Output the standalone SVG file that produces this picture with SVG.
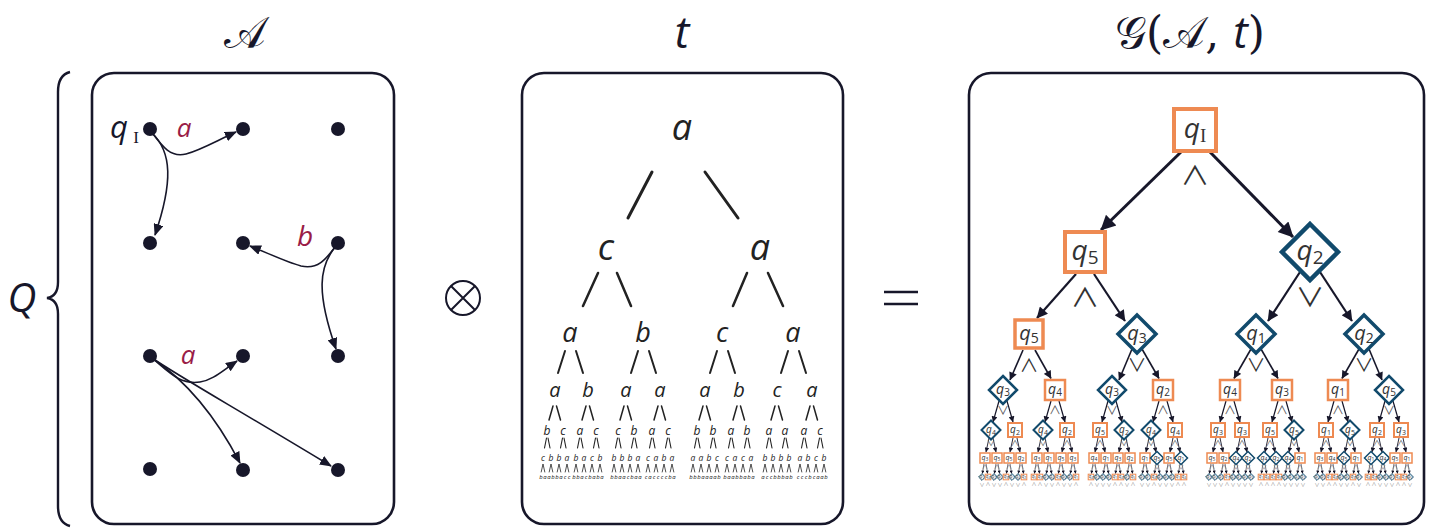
<svg xmlns="http://www.w3.org/2000/svg" width="1433" height="528" viewBox="0 0 1433 528">
<defs>
<style>
.frame{fill:#fff;stroke:#17172a;stroke-width:2.6}
.ttl{font-family:"DejaVu Serif","DejaVu Sans",serif;fill:#17172a;text-anchor:middle}
.it{font-family:"Open Sans","DejaVu Sans",sans-serif;font-style:italic;fill:#17172a}
.dot{fill:#17172a}
.ae{fill:none;stroke:#17172a;stroke-width:1.6;marker-end:url(#ha)}
.lab{font-family:"Open Sans",sans-serif;font-style:italic;fill:#9a1c47;text-anchor:middle}
.tr{font-family:"Open Sans",sans-serif;font-style:italic;fill:#222;text-anchor:middle}
.sl{fill:none;stroke:#222;stroke-linecap:round}
.sq{fill:#fff;stroke:#ee8a52}
.dm{fill:#fff;stroke:#114a6c}
.q{font-family:"Open Sans",sans-serif;font-style:italic;fill:#333;text-anchor:middle}
.q tspan{font-style:normal}
.q0{font-size:28px}.q0 tspan{font-size:19px;font-family:"Liberation Serif",serif}
.q1{font-size:28px}.q1 tspan{font-size:19px}
.q2{font-size:20px}.q2 tspan{font-size:14px}
.q3{font-size:14px}.q3 tspan{font-size:10px}
.q4{font-size:10px}.q4 tspan{font-size:7px}
.q5{font-size:7px}.q5 tspan{font-size:5px}
.q6{font-size:4.4px}.q6 tspan{font-size:3.2px}
.op{font-family:"Noto Sans CJK SC","DejaVu Sans",sans-serif;text-anchor:middle;fill:#333}
.o0,.o1{font-size:26px}
.o2{font-size:18px}
.o3{font-size:12px;fill:#555}
.o4{font-size:8px;fill:#666}
.o5{font-size:6px;fill:#777}
.o6{font-size:5px;fill:#888}
.ge{fill:none;stroke:#17172a;marker-end:url(#hg)}
</style>
<marker id="ha" viewBox="0 0 12 10" refX="11" refY="5" markerWidth="12" markerHeight="10" markerUnits="userSpaceOnUse" orient="auto"><path d="M0,0 L12,5 L0,10 Z" fill="#17172a"/></marker>
<marker id="hg" viewBox="0 0 10 10" refX="9.5" refY="5" markerWidth="6" markerHeight="5" orient="auto"><path d="M0,0 L10,5 L0,10 Z" fill="#17172a"/></marker>
<!-- node shapes, one size per tree level -->
<rect id="S0" x="-21" y="-21" width="42" height="42" class="sq" stroke-width="4"/>
<rect id="S1" x="-20" y="-20" width="40" height="40" class="sq" stroke-width="4"/>
<path id="D1" d="M0,-28L28,0L0,28L-28,0Z" class="dm" stroke-width="4.5"/>
<rect id="S2" x="-14" y="-14" width="28" height="28" class="sq" stroke-width="3.5"/>
<path id="D2" d="M0,-19L19,0L0,19L-19,0Z" class="dm" stroke-width="3.5"/>
<rect id="S3" x="-10" y="-10" width="20" height="20" class="sq" stroke-width="2.5"/>
<path id="D3" d="M0,-14L14,0L0,14L-14,0Z" class="dm" stroke-width="2.5"/>
<rect id="S4" x="-7" y="-7" width="14" height="14" class="sq" stroke-width="2"/>
<path id="D4" d="M0,-9.5L9.5,0L0,9.5L-9.5,0Z" class="dm" stroke-width="2"/>
<rect id="S5" x="-5" y="-5" width="10" height="10" class="sq" stroke-width="1.5"/>
<path id="D5" d="M0,-6.5L6.5,0L0,6.5L-6.5,0Z" class="dm" stroke-width="1.5"/>
<rect id="S6" x="-2.8" y="-2.8" width="5.6" height="5.6" class="sq" stroke-width="1"/>
<path id="D6" d="M0,-3.4L3.4,0L0,3.4L-3.4,0Z" class="dm" stroke-width="1"/>
<!-- arrow forks from a parent to its two children -->
<g id="F3" class="ge" stroke-width="1.2"><path d="M-4,11L-10,32"/><path d="M4,11L10,32"/></g>
<g id="F4" class="ge" stroke-width="0.9"><path d="M-2,8L-5,22"/><path d="M2,8L5,22"/></g>
<g id="F5" class="ge" stroke-width="0.6"><path d="M-1,5.5L-2.6,15.5"/><path d="M1,5.5L2.6,15.5"/></g>
<!-- branch strokes of the term tree -->
<path id="P3" class="sl" stroke-width="2" d="M-5,0L-12,22M6,0L13,22"/>
<path id="P4" class="sl" stroke-width="1.5" d="M-2,0L-6,14M1.5,0L5.5,14"/>
<path id="P5" class="sl" stroke-width="1.1" d="M-0.5,0L-2.5,10M1,0L3,10"/>
<path id="P6" class="sl" stroke-width="0.8" d="M-1.8,8L0,0L1.8,8"/>
</defs>

<rect width="1433" height="528" fill="#fff"/>

<!-- titles -->
<text class="ttl" x="245" y="48" font-size="44">𝒜</text>
<text class="it" x="682" y="48" font-size="44" text-anchor="middle">t</text>
<text class="ttl" x="1190" y="48" font-size="44">𝒢(𝒜, <tspan font-family="Open Sans" font-style="italic">t</tspan>)</text>

<!-- state set brace -->
<text class="it" x="22" y="312" font-size="40" text-anchor="middle">Q</text>
<path d="M70,72 C62,74 58,80 58,92 L58,282 C58,292 54,297 47,298 C54,299 58,304 58,314 L58,506 C58,518 62,524 70,526" fill="none" stroke="#17172a" stroke-width="2.4"/>

<!-- frames -->
<rect class="frame" x="92" y="73" width="302" height="451" rx="22"/>
<rect class="frame" x="522" y="73" width="321" height="451" rx="22"/>
<rect class="frame" x="969" y="73" width="455" height="451" rx="22"/>

<!-- operators between panels -->
<g id="otimes" fill="none" stroke="#17172a" stroke-width="2"><circle cx="463" cy="298" r="17"/><path d="M451,286L475,310M475,286L451,310"/></g>
<g id="equals" stroke="#17172a" stroke-width="2.5"><path d="M884,292H918M884,304H918"/></g>

<!-- automaton -->
<g id="a-edges">
<path class="ae" d="M150,130 C162,146 170,158 186,154 C201,150 216,141 236,132"/>
<path class="ae" d="M152,133 C172,152 173,182 155,235"/>
<path class="ae" d="M336,246 C326,259 318,270 301,266 C286,262 270,254 250,246"/>
<path class="ae" d="M336,246 C319,266 316,292 336,349"/>
<path class="ae" d="M152,358 C170,373 180,385 200,382 C213,380 222,371 237,361"/>
<path class="ae" d="M152,358 C185,380 215,415 240,463"/>
<path class="ae" d="M152,358 C180,377 225,402 331,466"/>
</g>
<g id="a-labels">
<text class="lab" x="184" y="137" font-size="26">a</text>
<text class="lab" x="305" y="246" font-size="28">b</text>
<text class="lab" x="188" y="364" font-size="26">a</text>
</g>
<g id="s-11"><circle class="dot" cx="150" cy="129" r="7"/><text class="it" x="119" y="138" font-size="31" text-anchor="middle">q</text><text x="136" y="143" font-size="17" font-family="Liberation Serif" fill="#17172a" text-anchor="middle">I</text></g>
<g id="s-12"><circle class="dot" cx="243" cy="129" r="7"/></g>
<g id="s-13"><circle class="dot" cx="338" cy="129" r="7"/></g>
<g id="s-21"><circle class="dot" cx="150" cy="243" r="7"/></g>
<g id="s-22"><circle class="dot" cx="243" cy="243" r="7"/></g>
<g id="s-23"><circle class="dot" cx="338" cy="243" r="7"/></g>
<g id="s-31"><circle class="dot" cx="150" cy="356" r="7"/></g>
<g id="s-32"><circle class="dot" cx="243" cy="356" r="7"/></g>
<g id="s-33"><circle class="dot" cx="338" cy="356" r="7"/></g>
<g id="s-41"><circle class="dot" cx="150" cy="469" r="7"/></g>
<g id="s-42"><circle class="dot" cx="243" cy="470" r="7"/></g>
<g id="s-43"><circle class="dot" cx="338" cy="470" r="7"/></g>

<!-- term tree t -->
<g id="t-branches">
<path class="sl" stroke-width="3" d="M652,172L628,218M705,172L738,218"/>
<path class="sl" stroke-width="2.5" d="M598,273L583,306M617,273L631,306M747,273L733,306M768,273L783,306"/>
<use href="#P3" x="570" y="351"/><use href="#P3" x="643" y="351"/><use href="#P3" x="722" y="351"/><use href="#P3" x="793" y="351"/>
<use href="#P4" x="555" y="406"/><use href="#P4" x="588" y="406"/><use href="#P4" x="626" y="406"/><use href="#P4" x="660" y="406"/><use href="#P4" x="705" y="406"/><use href="#P4" x="739" y="406"/><use href="#P4" x="777" y="406"/><use href="#P4" x="812" y="406"/>
<use href="#P5" x="547" y="438"/><use href="#P5" x="563" y="438"/><use href="#P5" x="580" y="438"/><use href="#P5" x="596" y="438"/><use href="#P5" x="618" y="438"/><use href="#P5" x="634" y="438"/><use href="#P5" x="652" y="438"/><use href="#P5" x="668" y="438"/><use href="#P5" x="697" y="438"/><use href="#P5" x="713" y="438"/><use href="#P5" x="731" y="438"/><use href="#P5" x="747" y="438"/><use href="#P5" x="769" y="438"/><use href="#P5" x="785" y="438"/><use href="#P5" x="804" y="438"/><use href="#P5" x="820" y="438"/>
<use href="#P6" x="543" y="464"/><use href="#P6" x="551" y="464"/><use href="#P6" x="559" y="464"/><use href="#P6" x="567" y="464"/><use href="#P6" x="576" y="464"/><use href="#P6" x="584" y="464"/><use href="#P6" x="592" y="464"/><use href="#P6" x="600" y="464"/><use href="#P6" x="614" y="464"/><use href="#P6" x="622" y="464"/><use href="#P6" x="630" y="464"/><use href="#P6" x="638" y="464"/><use href="#P6" x="648" y="464"/><use href="#P6" x="656" y="464"/><use href="#P6" x="664" y="464"/><use href="#P6" x="672" y="464"/><use href="#P6" x="693" y="464"/><use href="#P6" x="701" y="464"/><use href="#P6" x="709" y="464"/><use href="#P6" x="717" y="464"/><use href="#P6" x="727" y="464"/><use href="#P6" x="735" y="464"/><use href="#P6" x="743" y="464"/><use href="#P6" x="751" y="464"/><use href="#P6" x="765" y="464"/><use href="#P6" x="773" y="464"/><use href="#P6" x="781" y="464"/><use href="#P6" x="789" y="464"/><use href="#P6" x="800" y="464"/><use href="#P6" x="808" y="464"/><use href="#P6" x="816" y="464"/><use href="#P6" x="824" y="464"/>
</g>
<g id="t-d0"><text class="tr" x="682" y="140" font-size="36">a</text></g>
<g id="t-d1"><text class="tr" x="606 760" y="260" font-size="36">ca</text></g>
<g id="t-d2"><text class="tr" x="570 643 722 793" y="342" font-size="27">abca</text></g>
<g id="t-d3"><text class="tr" x="555 588 626 660 705 739 777 812" y="397" font-size="20">abaaabca</text></g>
<g id="t-d4"><text class="tr" x="547 563 580 596 618 634 652 668 697 713 731 747 769 785 804 820" y="435" font-size="12">bcaccbacbbabaaac</text></g>
<g id="t-d5"><text class="tr" x="543 551 559 567 576 584 592 600 614 622 630 638 648 656 664 672 693 701 709 717 727 735 743 751 765 773 781 789 800 808 816 824" y="461" font-size="8.5">cbbabacbbbbacabaaabccacabbbbabcb</text></g>
<g id="t-d6"><text class="tr" x="541 545 549 553 557 561 565 569 574 578 582 586 590 594 598 602 612 616 620 624 628 632 636 640 646 650 654 658 662 666 670 674 691 695 699 703 707 711 715 719 725 729 733 737 741 745 749 753 763 767 771 775 779 783 787 791 798 802 806 810 814 818 822 826" y="479" font-size="6">baabbaccbbacbababbaacbaacaccccbabbbaaaabbaabbabaaccbbbabcccbcaab</text></g>

<!-- game graph: connectors -->
<g id="g-edges">
<path class="ge" stroke-width="3" d="M1181,152L1101,230"/>
<path class="ge" stroke-width="3" d="M1210,152L1293,237"/>
<path class="ge" stroke-width="2.2" d="M1076,274L1037,318"/>
<path class="ge" stroke-width="2.2" d="M1094,274L1125,321"/>
<path class="ge" stroke-width="2.2" d="M1300,272L1268,321"/>
<path class="ge" stroke-width="2.2" d="M1320,272L1352,321"/>
<path class="ge" stroke-width="1.6" d="M1023,350L1010,380"/>
<path class="ge" stroke-width="1.6" d="M1035,350L1051,378.5"/>
<path class="ge" stroke-width="1.6" d="M1132,349L1119,380"/>
<path class="ge" stroke-width="1.6" d="M1142,349L1159,378.5"/>
<path class="ge" stroke-width="1.6" d="M1251,349L1234,378.5"/>
<path class="ge" stroke-width="1.6" d="M1261,349L1278,378.5"/>
<path class="ge" stroke-width="1.6" d="M1359,349L1342,378.5"/>
<path class="ge" stroke-width="1.6" d="M1369,349L1382,380"/>
<use href="#F3" x="1003" y="390"/><use href="#F3" x="1055" y="390"/><use href="#F3" x="1112" y="390"/><use href="#F3" x="1163" y="390"/><use href="#F3" x="1230" y="390"/><use href="#F3" x="1282" y="390"/><use href="#F3" x="1338" y="390"/><use href="#F3" x="1389" y="390"/>
<use href="#F4" x="991" y="430"/><use href="#F4" x="1015" y="430"/><use href="#F4" x="1043" y="430"/><use href="#F4" x="1067" y="430"/><use href="#F4" x="1100" y="430"/><use href="#F4" x="1124" y="430"/><use href="#F4" x="1151" y="430"/><use href="#F4" x="1175" y="430"/><use href="#F4" x="1218" y="430"/><use href="#F4" x="1242" y="430"/><use href="#F4" x="1270" y="430"/><use href="#F4" x="1294" y="430"/><use href="#F4" x="1326" y="430"/><use href="#F4" x="1350" y="430"/><use href="#F4" x="1377" y="430"/><use href="#F4" x="1401" y="430"/>
<use href="#F5" x="985" y="458"/><use href="#F5" x="997" y="458"/><use href="#F5" x="1009" y="458"/><use href="#F5" x="1021" y="458"/><use href="#F5" x="1037" y="458"/><use href="#F5" x="1049" y="458"/><use href="#F5" x="1061" y="458"/><use href="#F5" x="1073" y="458"/><use href="#F5" x="1094" y="458"/><use href="#F5" x="1106" y="458"/><use href="#F5" x="1118" y="458"/><use href="#F5" x="1130" y="458"/><use href="#F5" x="1145" y="458"/><use href="#F5" x="1157" y="458"/><use href="#F5" x="1169" y="458"/><use href="#F5" x="1181" y="458"/><use href="#F5" x="1212" y="458"/><use href="#F5" x="1224" y="458"/><use href="#F5" x="1236" y="458"/><use href="#F5" x="1248" y="458"/><use href="#F5" x="1264" y="458"/><use href="#F5" x="1276" y="458"/><use href="#F5" x="1288" y="458"/><use href="#F5" x="1300" y="458"/><use href="#F5" x="1320" y="458"/><use href="#F5" x="1332" y="458"/><use href="#F5" x="1344" y="458"/><use href="#F5" x="1356" y="458"/><use href="#F5" x="1371" y="458"/><use href="#F5" x="1383" y="458"/><use href="#F5" x="1395" y="458"/><use href="#F5" x="1407" y="458"/>
</g>

<!-- game graph: positions (square = Eve, diamond = Adam) -->
<g id="g0"><use href="#S0" x="1195" y="130"/><text class="q q0" x="1195" y="138">q<tspan dy="4">I</tspan></text><text class="op o0" x="1195" y="184.5" textLength="29" lengthAdjust="spacingAndGlyphs">∧</text></g>
<g id="g1-1"><use href="#S1" x="1085" y="252"/><text class="q q1" x="1085" y="260">q<tspan dy="4">5</tspan></text><text class="op o1" x="1085" y="306.5" textLength="29" lengthAdjust="spacingAndGlyphs">∧</text></g>
<g id="g1-2"><use href="#D1" x="1310" y="252"/><text class="q q1" x="1310" y="260">q<tspan dy="4">2</tspan></text><text class="op o1" x="1310" y="306.5" textLength="29" lengthAdjust="spacingAndGlyphs">∨</text></g>

<g id="g2-1"><use href="#S2" x="1029" y="334"/><text class="q q2" x="1029" y="339.5">q<tspan dy="3">5</tspan></text><text class="op o2" x="1029" y="372" textLength="19" lengthAdjust="spacingAndGlyphs">∧</text></g>
<g id="g2-2"><use href="#D2" x="1137" y="334"/><text class="q q2" x="1137" y="339.5">q<tspan dy="3">3</tspan></text><text class="op o2" x="1137" y="372" textLength="19" lengthAdjust="spacingAndGlyphs">∨</text></g>
<g id="g2-3"><use href="#D2" x="1256" y="334"/><text class="q q2" x="1256" y="339.5">q<tspan dy="3">1</tspan></text><text class="op o2" x="1256" y="372" textLength="19" lengthAdjust="spacingAndGlyphs">∨</text></g>
<g id="g2-4"><use href="#D2" x="1364" y="334"/><text class="q q2" x="1364" y="339.5">q<tspan dy="3">2</tspan></text><text class="op o2" x="1364" y="372" textLength="19" lengthAdjust="spacingAndGlyphs">∨</text></g>

<g id="g3-1"><use href="#D3" x="1003" y="390"/><text class="q q3" x="1003" y="394">q<tspan dy="2">3</tspan></text><text class="op o3" x="1003" y="414.5" textLength="12" lengthAdjust="spacingAndGlyphs">∨</text></g>
<g id="g3-2"><use href="#S3" x="1055" y="390"/><text class="q q3" x="1055" y="394">q<tspan dy="2">4</tspan></text><text class="op o3" x="1055" y="414.5" textLength="12" lengthAdjust="spacingAndGlyphs">∧</text></g>
<g id="g3-3"><use href="#D3" x="1112" y="390"/><text class="q q3" x="1112" y="394">q<tspan dy="2">3</tspan></text><text class="op o3" x="1112" y="414.5" textLength="12" lengthAdjust="spacingAndGlyphs">∨</text></g>
<g id="g3-4"><use href="#S3" x="1163" y="390"/><text class="q q3" x="1163" y="394">q<tspan dy="2">2</tspan></text><text class="op o3" x="1163" y="414.5" textLength="12" lengthAdjust="spacingAndGlyphs">∧</text></g>
<g id="g3-5"><use href="#S3" x="1230" y="390"/><text class="q q3" x="1230" y="394">q<tspan dy="2">4</tspan></text><text class="op o3" x="1230" y="414.5" textLength="12" lengthAdjust="spacingAndGlyphs">∧</text></g>
<g id="g3-6"><use href="#S3" x="1282" y="390"/><text class="q q3" x="1282" y="394">q<tspan dy="2">3</tspan></text><text class="op o3" x="1282" y="414.5" textLength="12" lengthAdjust="spacingAndGlyphs">∧</text></g>
<g id="g3-7"><use href="#S3" x="1338" y="390"/><text class="q q3" x="1338" y="394">q<tspan dy="2">1</tspan></text><text class="op o3" x="1338" y="414.5" textLength="12" lengthAdjust="spacingAndGlyphs">∧</text></g>
<g id="g3-8"><use href="#D3" x="1389" y="390"/><text class="q q3" x="1389" y="394">q<tspan dy="2">5</tspan></text><text class="op o3" x="1389" y="414.5" textLength="12" lengthAdjust="spacingAndGlyphs">∨</text></g>

<g id="g4-1"><use href="#D4" x="991" y="430"/><text class="q q4" x="991" y="433">q<tspan dy="1.5">4</tspan></text><text class="op o4" x="991" y="446" textLength="8.5" lengthAdjust="spacingAndGlyphs">∨</text></g>
<g id="g4-2"><use href="#S4" x="1015" y="430"/><text class="q q4" x="1015" y="433">q<tspan dy="1.5">2</tspan></text><text class="op o4" x="1015" y="446" textLength="8.5" lengthAdjust="spacingAndGlyphs">∧</text></g>
<g id="g4-3"><use href="#D4" x="1043" y="430"/><text class="q q4" x="1043" y="433">q<tspan dy="1.5">4</tspan></text><text class="op o4" x="1043" y="446" textLength="8.5" lengthAdjust="spacingAndGlyphs">∨</text></g>
<g id="g4-4"><use href="#S4" x="1067" y="430"/><text class="q q4" x="1067" y="433">q<tspan dy="1.5">2</tspan></text><text class="op o4" x="1067" y="446" textLength="8.5" lengthAdjust="spacingAndGlyphs">∧</text></g>
<g id="g4-5"><use href="#S4" x="1100" y="430"/><text class="q q4" x="1100" y="433">q<tspan dy="1.5">5</tspan></text><text class="op o4" x="1100" y="446" textLength="8.5" lengthAdjust="spacingAndGlyphs">∧</text></g>
<g id="g4-6"><use href="#D4" x="1124" y="430"/><text class="q q4" x="1124" y="433">q<tspan dy="1.5">2</tspan></text><text class="op o4" x="1124" y="446" textLength="8.5" lengthAdjust="spacingAndGlyphs">∨</text></g>
<g id="g4-7"><use href="#D4" x="1151" y="430"/><text class="q q4" x="1151" y="433">q<tspan dy="1.5">4</tspan></text><text class="op o4" x="1151" y="446" textLength="8.5" lengthAdjust="spacingAndGlyphs">∨</text></g>
<g id="g4-8"><use href="#S4" x="1175" y="430"/><text class="q q4" x="1175" y="433">q<tspan dy="1.5">4</tspan></text><text class="op o4" x="1175" y="446" textLength="8.5" lengthAdjust="spacingAndGlyphs">∧</text></g>
<g id="g4-9"><use href="#S4" x="1218" y="430"/><text class="q q4" x="1218" y="433">q<tspan dy="1.5">3</tspan></text><text class="op o4" x="1218" y="446" textLength="8.5" lengthAdjust="spacingAndGlyphs">∧</text></g>
<g id="g4-10"><use href="#S4" x="1242" y="430"/><text class="q q4" x="1242" y="433">q<tspan dy="1.5">3</tspan></text><text class="op o4" x="1242" y="446" textLength="8.5" lengthAdjust="spacingAndGlyphs">∧</text></g>
<g id="g4-11"><use href="#S4" x="1270" y="430"/><text class="q q4" x="1270" y="433">q<tspan dy="1.5">5</tspan></text><text class="op o4" x="1270" y="446" textLength="8.5" lengthAdjust="spacingAndGlyphs">∧</text></g>
<g id="g4-12"><use href="#D4" x="1294" y="430"/><text class="q q4" x="1294" y="433">q<tspan dy="1.5">5</tspan></text><text class="op o4" x="1294" y="446" textLength="8.5" lengthAdjust="spacingAndGlyphs">∨</text></g>
<g id="g4-13"><use href="#S4" x="1326" y="430"/><text class="q q4" x="1326" y="433">q<tspan dy="1.5">1</tspan></text><text class="op o4" x="1326" y="446" textLength="8.5" lengthAdjust="spacingAndGlyphs">∧</text></g>
<g id="g4-14"><use href="#D4" x="1350" y="430"/><text class="q q4" x="1350" y="433">q<tspan dy="1.5">5</tspan></text><text class="op o4" x="1350" y="446" textLength="8.5" lengthAdjust="spacingAndGlyphs">∨</text></g>
<g id="g4-15"><use href="#S4" x="1377" y="430"/><text class="q q4" x="1377" y="433">q<tspan dy="1.5">2</tspan></text><text class="op o4" x="1377" y="446" textLength="8.5" lengthAdjust="spacingAndGlyphs">∧</text></g>
<g id="g4-16"><use href="#S4" x="1401" y="430"/><text class="q q4" x="1401" y="433">q<tspan dy="1.5">3</tspan></text><text class="op o4" x="1401" y="446" textLength="8.5" lengthAdjust="spacingAndGlyphs">∧</text></g>

<g id="g5-1"><use href="#S5" x="985" y="458"/><text class="q q5" x="985" y="460.3">q<tspan dy="1">3</tspan></text><text class="op o5" x="985" y="469" textLength="6" lengthAdjust="spacingAndGlyphs">∧</text></g>
<g id="g5-2"><use href="#S5" x="997" y="458"/><text class="q q5" x="997" y="460.3">q<tspan dy="1">5</tspan></text><text class="op o5" x="997" y="469" textLength="6" lengthAdjust="spacingAndGlyphs">∧</text></g>
<g id="g5-3"><use href="#S5" x="1009" y="458"/><text class="q q5" x="1009" y="460.3">q<tspan dy="1">5</tspan></text><text class="op o5" x="1009" y="469" textLength="6" lengthAdjust="spacingAndGlyphs">∧</text></g>
<g id="g5-4"><use href="#S5" x="1021" y="458"/><text class="q q5" x="1021" y="460.3">q<tspan dy="1">2</tspan></text><text class="op o5" x="1021" y="469" textLength="6" lengthAdjust="spacingAndGlyphs">∧</text></g>
<g id="g5-5"><use href="#S5" x="1037" y="458"/><text class="q q5" x="1037" y="460.3">q<tspan dy="1">3</tspan></text><text class="op o5" x="1037" y="469" textLength="6" lengthAdjust="spacingAndGlyphs">∧</text></g>
<g id="g5-6"><use href="#S5" x="1049" y="458"/><text class="q q5" x="1049" y="460.3">q<tspan dy="1">1</tspan></text><text class="op o5" x="1049" y="469" textLength="6" lengthAdjust="spacingAndGlyphs">∧</text></g>
<g id="g5-7"><use href="#S5" x="1061" y="458"/><text class="q q5" x="1061" y="460.3">q<tspan dy="1">5</tspan></text><text class="op o5" x="1061" y="469" textLength="6" lengthAdjust="spacingAndGlyphs">∧</text></g>
<g id="g5-8"><use href="#S5" x="1073" y="458"/><text class="q q5" x="1073" y="460.3">q<tspan dy="1">3</tspan></text><text class="op o5" x="1073" y="469" textLength="6" lengthAdjust="spacingAndGlyphs">∧</text></g>
<g id="g5-9"><use href="#S5" x="1094" y="458"/><text class="q q5" x="1094" y="460.3">q<tspan dy="1">4</tspan></text><text class="op o5" x="1094" y="469" textLength="6" lengthAdjust="spacingAndGlyphs">∧</text></g>
<g id="g5-10"><use href="#S5" x="1106" y="458"/><text class="q q5" x="1106" y="460.3">q<tspan dy="1">1</tspan></text><text class="op o5" x="1106" y="469" textLength="6" lengthAdjust="spacingAndGlyphs">∧</text></g>
<g id="g5-11"><use href="#S5" x="1118" y="458"/><text class="q q5" x="1118" y="460.3">q<tspan dy="1">3</tspan></text><text class="op o5" x="1118" y="469" textLength="6" lengthAdjust="spacingAndGlyphs">∧</text></g>
<g id="g5-12"><use href="#S5" x="1130" y="458"/><text class="q q5" x="1130" y="460.3">q<tspan dy="1">2</tspan></text><text class="op o5" x="1130" y="469" textLength="6" lengthAdjust="spacingAndGlyphs">∧</text></g>
<g id="g5-13"><use href="#S5" x="1145" y="458"/><text class="q q5" x="1145" y="460.3">q<tspan dy="1">1</tspan></text><text class="op o5" x="1145" y="469" textLength="6" lengthAdjust="spacingAndGlyphs">∧</text></g>
<g id="g5-14"><use href="#D5" x="1157" y="458"/><text class="q q5" x="1157" y="460.3">q<tspan dy="1">5</tspan></text><text class="op o5" x="1157" y="469" textLength="6" lengthAdjust="spacingAndGlyphs">∨</text></g>
<g id="g5-15"><use href="#S5" x="1169" y="458"/><text class="q q5" x="1169" y="460.3">q<tspan dy="1">5</tspan></text><text class="op o5" x="1169" y="469" textLength="6" lengthAdjust="spacingAndGlyphs">∧</text></g>
<g id="g5-16"><use href="#D5" x="1181" y="458"/><text class="q q5" x="1181" y="460.3">q<tspan dy="1">1</tspan></text><text class="op o5" x="1181" y="469" textLength="6" lengthAdjust="spacingAndGlyphs">∨</text></g>
<g id="g5-17"><use href="#S5" x="1212" y="458"/><text class="q q5" x="1212" y="460.3">q<tspan dy="1">5</tspan></text><text class="op o5" x="1212" y="469" textLength="6" lengthAdjust="spacingAndGlyphs">∧</text></g>
<g id="g5-18"><use href="#S5" x="1224" y="458"/><text class="q q5" x="1224" y="460.3">q<tspan dy="1">2</tspan></text><text class="op o5" x="1224" y="469" textLength="6" lengthAdjust="spacingAndGlyphs">∧</text></g>
<g id="g5-19"><use href="#D5" x="1236" y="458"/><text class="q q5" x="1236" y="460.3">q<tspan dy="1">4</tspan></text><text class="op o5" x="1236" y="469" textLength="6" lengthAdjust="spacingAndGlyphs">∨</text></g>
<g id="g5-20"><use href="#D5" x="1248" y="458"/><text class="q q5" x="1248" y="460.3">q<tspan dy="1">2</tspan></text><text class="op o5" x="1248" y="469" textLength="6" lengthAdjust="spacingAndGlyphs">∨</text></g>
<g id="g5-21"><use href="#D5" x="1264" y="458"/><text class="q q5" x="1264" y="460.3">q<tspan dy="1">4</tspan></text><text class="op o5" x="1264" y="469" textLength="6" lengthAdjust="spacingAndGlyphs">∨</text></g>
<g id="g5-22"><use href="#D5" x="1276" y="458"/><text class="q q5" x="1276" y="460.3">q<tspan dy="1">2</tspan></text><text class="op o5" x="1276" y="469" textLength="6" lengthAdjust="spacingAndGlyphs">∨</text></g>
<g id="g5-23"><use href="#D5" x="1288" y="458"/><text class="q q5" x="1288" y="460.3">q<tspan dy="1">4</tspan></text><text class="op o5" x="1288" y="469" textLength="6" lengthAdjust="spacingAndGlyphs">∨</text></g>
<g id="g5-24"><use href="#S5" x="1300" y="458"/><text class="q q5" x="1300" y="460.3">q<tspan dy="1">1</tspan></text><text class="op o5" x="1300" y="469" textLength="6" lengthAdjust="spacingAndGlyphs">∧</text></g>
<g id="g5-25"><use href="#S5" x="1320" y="458"/><text class="q q5" x="1320" y="460.3">q<tspan dy="1">3</tspan></text><text class="op o5" x="1320" y="469" textLength="6" lengthAdjust="spacingAndGlyphs">∧</text></g>
<g id="g5-26"><use href="#S5" x="1332" y="458"/><text class="q q5" x="1332" y="460.3">q<tspan dy="1">4</tspan></text><text class="op o5" x="1332" y="469" textLength="6" lengthAdjust="spacingAndGlyphs">∧</text></g>
<g id="g5-27"><use href="#D5" x="1344" y="458"/><text class="q q5" x="1344" y="460.3">q<tspan dy="1">5</tspan></text><text class="op o5" x="1344" y="469" textLength="6" lengthAdjust="spacingAndGlyphs">∨</text></g>
<g id="g5-28"><use href="#S5" x="1356" y="458"/><text class="q q5" x="1356" y="460.3">q<tspan dy="1">1</tspan></text><text class="op o5" x="1356" y="469" textLength="6" lengthAdjust="spacingAndGlyphs">∧</text></g>
<g id="g5-29"><use href="#D5" x="1371" y="458"/><text class="q q5" x="1371" y="460.3">q<tspan dy="1">1</tspan></text><text class="op o5" x="1371" y="469" textLength="6" lengthAdjust="spacingAndGlyphs">∨</text></g>
<g id="g5-30"><use href="#D5" x="1383" y="458"/><text class="q q5" x="1383" y="460.3">q<tspan dy="1">4</tspan></text><text class="op o5" x="1383" y="469" textLength="6" lengthAdjust="spacingAndGlyphs">∨</text></g>
<g id="g5-31"><use href="#S5" x="1395" y="458"/><text class="q q5" x="1395" y="460.3">q<tspan dy="1">5</tspan></text><text class="op o5" x="1395" y="469" textLength="6" lengthAdjust="spacingAndGlyphs">∧</text></g>
<g id="g5-32"><use href="#S5" x="1407" y="458"/><text class="q q5" x="1407" y="460.3">q<tspan dy="1">1</tspan></text><text class="op o5" x="1407" y="469" textLength="6" lengthAdjust="spacingAndGlyphs">∧</text></g>

<g id="g6-1"><use href="#D6" x="982" y="477"/><text class="q q6" x="982" y="478.4">q<tspan dy=".6">1</tspan></text><text class="op o6" x="982" y="486" textLength="5" lengthAdjust="spacingAndGlyphs">∨</text></g>
<g id="g6-2"><use href="#S6" x="988" y="477"/><text class="q q6" x="988" y="478.4">q<tspan dy=".6">4</tspan></text><text class="op o6" x="988" y="486" textLength="5" lengthAdjust="spacingAndGlyphs">∧</text></g>
<g id="g6-3"><use href="#D6" x="994" y="477"/><text class="q q6" x="994" y="478.4">q<tspan dy=".6">2</tspan></text><text class="op o6" x="994" y="486" textLength="5" lengthAdjust="spacingAndGlyphs">∨</text></g>
<g id="g6-4"><use href="#D6" x="1000" y="477"/><text class="q q6" x="1000" y="478.4">q<tspan dy=".6">5</tspan></text><text class="op o6" x="1000" y="486" textLength="5" lengthAdjust="spacingAndGlyphs">∨</text></g>
<g id="g6-5"><use href="#S6" x="1006" y="477"/><text class="q q6" x="1006" y="478.4">q<tspan dy=".6">3</tspan></text><text class="op o6" x="1006" y="486" textLength="5" lengthAdjust="spacingAndGlyphs">∧</text></g>
<g id="g6-6"><use href="#D6" x="1012" y="477"/><text class="q q6" x="1012" y="478.4">q<tspan dy=".6">1</tspan></text><text class="op o6" x="1012" y="486" textLength="5" lengthAdjust="spacingAndGlyphs">∨</text></g>
<g id="g6-7"><use href="#D6" x="1018" y="477"/><text class="q q6" x="1018" y="478.4">q<tspan dy=".6">4</tspan></text><text class="op o6" x="1018" y="486" textLength="5" lengthAdjust="spacingAndGlyphs">∨</text></g>
<g id="g6-8"><use href="#S6" x="1024" y="477"/><text class="q q6" x="1024" y="478.4">q<tspan dy=".6">2</tspan></text><text class="op o6" x="1024" y="486" textLength="5" lengthAdjust="spacingAndGlyphs">∧</text></g>
<g id="g6-9"><use href="#S6" x="1034" y="477"/><text class="q q6" x="1034" y="478.4">q<tspan dy=".6">5</tspan></text><text class="op o6" x="1034" y="486" textLength="5" lengthAdjust="spacingAndGlyphs">∧</text></g>
<g id="g6-10"><use href="#S6" x="1040" y="477"/><text class="q q6" x="1040" y="478.4">q<tspan dy=".6">3</tspan></text><text class="op o6" x="1040" y="486" textLength="5" lengthAdjust="spacingAndGlyphs">∧</text></g>
<g id="g6-11"><use href="#D6" x="1046" y="477"/><text class="q q6" x="1046" y="478.4">q<tspan dy=".6">1</tspan></text><text class="op o6" x="1046" y="486" textLength="5" lengthAdjust="spacingAndGlyphs">∨</text></g>
<g id="g6-12"><use href="#D6" x="1052" y="477"/><text class="q q6" x="1052" y="478.4">q<tspan dy=".6">4</tspan></text><text class="op o6" x="1052" y="486" textLength="5" lengthAdjust="spacingAndGlyphs">∨</text></g>
<g id="g6-13"><use href="#S6" x="1058" y="477"/><text class="q q6" x="1058" y="478.4">q<tspan dy=".6">2</tspan></text><text class="op o6" x="1058" y="486" textLength="5" lengthAdjust="spacingAndGlyphs">∧</text></g>
<g id="g6-14"><use href="#D6" x="1064" y="477"/><text class="q q6" x="1064" y="478.4">q<tspan dy=".6">5</tspan></text><text class="op o6" x="1064" y="486" textLength="5" lengthAdjust="spacingAndGlyphs">∨</text></g>
<g id="g6-15"><use href="#D6" x="1070" y="477"/><text class="q q6" x="1070" y="478.4">q<tspan dy=".6">3</tspan></text><text class="op o6" x="1070" y="486" textLength="5" lengthAdjust="spacingAndGlyphs">∨</text></g>
<g id="g6-16"><use href="#S6" x="1076" y="477"/><text class="q q6" x="1076" y="478.4">q<tspan dy=".6">1</tspan></text><text class="op o6" x="1076" y="486" textLength="5" lengthAdjust="spacingAndGlyphs">∧</text></g>
<g id="g6-17"><use href="#S6" x="1091" y="477"/><text class="q q6" x="1091" y="478.4">q<tspan dy=".6">4</tspan></text><text class="op o6" x="1091" y="486" textLength="5" lengthAdjust="spacingAndGlyphs">∧</text></g>
<g id="g6-18"><use href="#D6" x="1097" y="477"/><text class="q q6" x="1097" y="478.4">q<tspan dy=".6">2</tspan></text><text class="op o6" x="1097" y="486" textLength="5" lengthAdjust="spacingAndGlyphs">∨</text></g>
<g id="g6-19"><use href="#D6" x="1103" y="477"/><text class="q q6" x="1103" y="478.4">q<tspan dy=".6">5</tspan></text><text class="op o6" x="1103" y="486" textLength="5" lengthAdjust="spacingAndGlyphs">∨</text></g>
<g id="g6-20"><use href="#D6" x="1109" y="477"/><text class="q q6" x="1109" y="478.4">q<tspan dy=".6">3</tspan></text><text class="op o6" x="1109" y="486" textLength="5" lengthAdjust="spacingAndGlyphs">∨</text></g>
<g id="g6-21"><use href="#S6" x="1115" y="477"/><text class="q q6" x="1115" y="478.4">q<tspan dy=".6">1</tspan></text><text class="op o6" x="1115" y="486" textLength="5" lengthAdjust="spacingAndGlyphs">∧</text></g>
<g id="g6-22"><use href="#S6" x="1121" y="477"/><text class="q q6" x="1121" y="478.4">q<tspan dy=".6">4</tspan></text><text class="op o6" x="1121" y="486" textLength="5" lengthAdjust="spacingAndGlyphs">∧</text></g>
<g id="g6-23"><use href="#D6" x="1127" y="477"/><text class="q q6" x="1127" y="478.4">q<tspan dy=".6">2</tspan></text><text class="op o6" x="1127" y="486" textLength="5" lengthAdjust="spacingAndGlyphs">∨</text></g>
<g id="g6-24"><use href="#S6" x="1133" y="477"/><text class="q q6" x="1133" y="478.4">q<tspan dy=".6">5</tspan></text><text class="op o6" x="1133" y="486" textLength="5" lengthAdjust="spacingAndGlyphs">∧</text></g>
<g id="g6-25"><use href="#D6" x="1142" y="477"/><text class="q q6" x="1142" y="478.4">q<tspan dy=".6">3</tspan></text><text class="op o6" x="1142" y="486" textLength="5" lengthAdjust="spacingAndGlyphs">∨</text></g>
<g id="g6-26"><use href="#D6" x="1148" y="477"/><text class="q q6" x="1148" y="478.4">q<tspan dy=".6">1</tspan></text><text class="op o6" x="1148" y="486" textLength="5" lengthAdjust="spacingAndGlyphs">∨</text></g>
<g id="g6-27"><use href="#S6" x="1154" y="477"/><text class="q q6" x="1154" y="478.4">q<tspan dy=".6">4</tspan></text><text class="op o6" x="1154" y="486" textLength="5" lengthAdjust="spacingAndGlyphs">∧</text></g>
<g id="g6-28"><use href="#D6" x="1160" y="477"/><text class="q q6" x="1160" y="478.4">q<tspan dy=".6">2</tspan></text><text class="op o6" x="1160" y="486" textLength="5" lengthAdjust="spacingAndGlyphs">∨</text></g>
<g id="g6-29"><use href="#D6" x="1166" y="477"/><text class="q q6" x="1166" y="478.4">q<tspan dy=".6">5</tspan></text><text class="op o6" x="1166" y="486" textLength="5" lengthAdjust="spacingAndGlyphs">∨</text></g>
<g id="g6-30"><use href="#D6" x="1172" y="477"/><text class="q q6" x="1172" y="478.4">q<tspan dy=".6">3</tspan></text><text class="op o6" x="1172" y="486" textLength="5" lengthAdjust="spacingAndGlyphs">∨</text></g>
<g id="g6-31"><use href="#S6" x="1178" y="477"/><text class="q q6" x="1178" y="478.4">q<tspan dy=".6">1</tspan></text><text class="op o6" x="1178" y="486" textLength="5" lengthAdjust="spacingAndGlyphs">∧</text></g>
<g id="g6-32"><use href="#S6" x="1184" y="477"/><text class="q q6" x="1184" y="478.4">q<tspan dy=".6">4</tspan></text><text class="op o6" x="1184" y="486" textLength="5" lengthAdjust="spacingAndGlyphs">∧</text></g>
<g id="g6-33"><use href="#D6" x="1209" y="477"/><text class="q q6" x="1209" y="478.4">q<tspan dy=".6">2</tspan></text><text class="op o6" x="1209" y="486" textLength="5" lengthAdjust="spacingAndGlyphs">∨</text></g>
<g id="g6-34"><use href="#D6" x="1215" y="477"/><text class="q q6" x="1215" y="478.4">q<tspan dy=".6">5</tspan></text><text class="op o6" x="1215" y="486" textLength="5" lengthAdjust="spacingAndGlyphs">∨</text></g>
<g id="g6-35"><use href="#D6" x="1221" y="477"/><text class="q q6" x="1221" y="478.4">q<tspan dy=".6">3</tspan></text><text class="op o6" x="1221" y="486" textLength="5" lengthAdjust="spacingAndGlyphs">∨</text></g>
<g id="g6-36"><use href="#S6" x="1227" y="477"/><text class="q q6" x="1227" y="478.4">q<tspan dy=".6">1</tspan></text><text class="op o6" x="1227" y="486" textLength="5" lengthAdjust="spacingAndGlyphs">∧</text></g>
<g id="g6-37"><use href="#D6" x="1233" y="477"/><text class="q q6" x="1233" y="478.4">q<tspan dy=".6">4</tspan></text><text class="op o6" x="1233" y="486" textLength="5" lengthAdjust="spacingAndGlyphs">∨</text></g>
<g id="g6-38"><use href="#D6" x="1239" y="477"/><text class="q q6" x="1239" y="478.4">q<tspan dy=".6">2</tspan></text><text class="op o6" x="1239" y="486" textLength="5" lengthAdjust="spacingAndGlyphs">∨</text></g>
<g id="g6-39"><use href="#D6" x="1245" y="477"/><text class="q q6" x="1245" y="478.4">q<tspan dy=".6">5</tspan></text><text class="op o6" x="1245" y="486" textLength="5" lengthAdjust="spacingAndGlyphs">∨</text></g>
<g id="g6-40"><use href="#D6" x="1251" y="477"/><text class="q q6" x="1251" y="478.4">q<tspan dy=".6">3</tspan></text><text class="op o6" x="1251" y="486" textLength="5" lengthAdjust="spacingAndGlyphs">∨</text></g>
<g id="g6-41"><use href="#S6" x="1261" y="477"/><text class="q q6" x="1261" y="478.4">q<tspan dy=".6">1</tspan></text><text class="op o6" x="1261" y="486" textLength="5" lengthAdjust="spacingAndGlyphs">∧</text></g>
<g id="g6-42"><use href="#S6" x="1267" y="477"/><text class="q q6" x="1267" y="478.4">q<tspan dy=".6">4</tspan></text><text class="op o6" x="1267" y="486" textLength="5" lengthAdjust="spacingAndGlyphs">∧</text></g>
<g id="g6-43"><use href="#S6" x="1273" y="477"/><text class="q q6" x="1273" y="478.4">q<tspan dy=".6">2</tspan></text><text class="op o6" x="1273" y="486" textLength="5" lengthAdjust="spacingAndGlyphs">∧</text></g>
<g id="g6-44"><use href="#S6" x="1279" y="477"/><text class="q q6" x="1279" y="478.4">q<tspan dy=".6">5</tspan></text><text class="op o6" x="1279" y="486" textLength="5" lengthAdjust="spacingAndGlyphs">∧</text></g>
<g id="g6-45"><use href="#D6" x="1285" y="477"/><text class="q q6" x="1285" y="478.4">q<tspan dy=".6">3</tspan></text><text class="op o6" x="1285" y="486" textLength="5" lengthAdjust="spacingAndGlyphs">∨</text></g>
<g id="g6-46"><use href="#D6" x="1291" y="477"/><text class="q q6" x="1291" y="478.4">q<tspan dy=".6">1</tspan></text><text class="op o6" x="1291" y="486" textLength="5" lengthAdjust="spacingAndGlyphs">∨</text></g>
<g id="g6-47"><use href="#D6" x="1297" y="477"/><text class="q q6" x="1297" y="478.4">q<tspan dy=".6">4</tspan></text><text class="op o6" x="1297" y="486" textLength="5" lengthAdjust="spacingAndGlyphs">∨</text></g>
<g id="g6-48"><use href="#D6" x="1303" y="477"/><text class="q q6" x="1303" y="478.4">q<tspan dy=".6">2</tspan></text><text class="op o6" x="1303" y="486" textLength="5" lengthAdjust="spacingAndGlyphs">∨</text></g>
<g id="g6-49"><use href="#D6" x="1317" y="477"/><text class="q q6" x="1317" y="478.4">q<tspan dy=".6">5</tspan></text><text class="op o6" x="1317" y="486" textLength="5" lengthAdjust="spacingAndGlyphs">∨</text></g>
<g id="g6-50"><use href="#D6" x="1323" y="477"/><text class="q q6" x="1323" y="478.4">q<tspan dy=".6">3</tspan></text><text class="op o6" x="1323" y="486" textLength="5" lengthAdjust="spacingAndGlyphs">∨</text></g>
<g id="g6-51"><use href="#S6" x="1329" y="477"/><text class="q q6" x="1329" y="478.4">q<tspan dy=".6">1</tspan></text><text class="op o6" x="1329" y="486" textLength="5" lengthAdjust="spacingAndGlyphs">∧</text></g>
<g id="g6-52"><use href="#S6" x="1335" y="477"/><text class="q q6" x="1335" y="478.4">q<tspan dy=".6">4</tspan></text><text class="op o6" x="1335" y="486" textLength="5" lengthAdjust="spacingAndGlyphs">∧</text></g>
<g id="g6-53"><use href="#D6" x="1341" y="477"/><text class="q q6" x="1341" y="478.4">q<tspan dy=".6">2</tspan></text><text class="op o6" x="1341" y="486" textLength="5" lengthAdjust="spacingAndGlyphs">∨</text></g>
<g id="g6-54"><use href="#D6" x="1347" y="477"/><text class="q q6" x="1347" y="478.4">q<tspan dy=".6">5</tspan></text><text class="op o6" x="1347" y="486" textLength="5" lengthAdjust="spacingAndGlyphs">∨</text></g>
<g id="g6-55"><use href="#S6" x="1353" y="477"/><text class="q q6" x="1353" y="478.4">q<tspan dy=".6">3</tspan></text><text class="op o6" x="1353" y="486" textLength="5" lengthAdjust="spacingAndGlyphs">∧</text></g>
<g id="g6-56"><use href="#D6" x="1359" y="477"/><text class="q q6" x="1359" y="478.4">q<tspan dy=".6">1</tspan></text><text class="op o6" x="1359" y="486" textLength="5" lengthAdjust="spacingAndGlyphs">∨</text></g>
<g id="g6-57"><use href="#S6" x="1368" y="477"/><text class="q q6" x="1368" y="478.4">q<tspan dy=".6">4</tspan></text><text class="op o6" x="1368" y="486" textLength="5" lengthAdjust="spacingAndGlyphs">∧</text></g>
<g id="g6-58"><use href="#S6" x="1374" y="477"/><text class="q q6" x="1374" y="478.4">q<tspan dy=".6">2</tspan></text><text class="op o6" x="1374" y="486" textLength="5" lengthAdjust="spacingAndGlyphs">∧</text></g>
<g id="g6-59"><use href="#D6" x="1380" y="477"/><text class="q q6" x="1380" y="478.4">q<tspan dy=".6">5</tspan></text><text class="op o6" x="1380" y="486" textLength="5" lengthAdjust="spacingAndGlyphs">∨</text></g>
<g id="g6-60"><use href="#D6" x="1386" y="477"/><text class="q q6" x="1386" y="478.4">q<tspan dy=".6">3</tspan></text><text class="op o6" x="1386" y="486" textLength="5" lengthAdjust="spacingAndGlyphs">∨</text></g>
<g id="g6-61"><use href="#D6" x="1392" y="477"/><text class="q q6" x="1392" y="478.4">q<tspan dy=".6">1</tspan></text><text class="op o6" x="1392" y="486" textLength="5" lengthAdjust="spacingAndGlyphs">∨</text></g>
<g id="g6-62"><use href="#S6" x="1398" y="477"/><text class="q q6" x="1398" y="478.4">q<tspan dy=".6">4</tspan></text><text class="op o6" x="1398" y="486" textLength="5" lengthAdjust="spacingAndGlyphs">∧</text></g>
<g id="g6-63"><use href="#S6" x="1404" y="477"/><text class="q q6" x="1404" y="478.4">q<tspan dy=".6">2</tspan></text><text class="op o6" x="1404" y="486" textLength="5" lengthAdjust="spacingAndGlyphs">∧</text></g>
<g id="g6-64"><use href="#D6" x="1410" y="477"/><text class="q q6" x="1410" y="478.4">q<tspan dy=".6">5</tspan></text><text class="op o6" x="1410" y="486" textLength="5" lengthAdjust="spacingAndGlyphs">∨</text></g>
</svg>
